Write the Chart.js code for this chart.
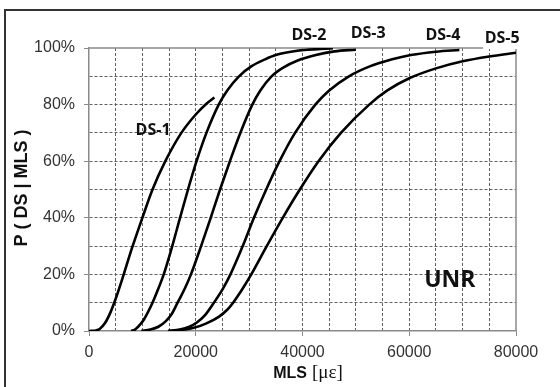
<!doctype html>
<html>
<head>
    <title>P ( DS | MLS ) - UNR</title>
    <script src="https://cdn.jsdelivr.net/npm/chart.js@4.4.0/dist/chart.umd.min.js"></script>
    <style>
        body { margin: 0; background: #fff; }
    </style>
</head>
<body>
<canvas id="myChart" width="560" height="387"></canvas>
<script>
// fragility curves: strain in microstrain, probability in %
var ds1Strain = [0, 1300, 2000, 3000, 4000, 5000, 6000, 7000, 8000, 10000, 11900, 14300, 17300, 20000, 22000, 23500];
var ds1Prob   = [0, 0.2, 0.7, 2.8, 6.5, 11.4, 17, 23, 29, 40, 50, 60, 70, 76.5, 80.3, 82.5];

var ds2Strain = [7900, 8600, 9200, 10100, 11000, 11900, 13000, 14000, 15600, 17050, 18550, 20150, 22000, 24300, 25900, 28100, 30400, 33000, 35000, 39000, 45700];
var ds2Prob   = [0, 0.5, 1.5, 3.5, 6.5, 10, 15, 20, 30, 40, 50, 60, 70, 80, 85, 90, 93.5, 96, 97.5, 99, 99.9];

var ds3Strain = [9800, 11500, 13000, 14400, 15500, 16600, 17950, 19100, 21000, 22800, 24550, 26400, 28350, 30600, 32100, 34200, 36300, 39000, 42500, 46000, 50000];
var ds3Prob   = [0, 0.5, 1.5, 3.5, 6, 10, 15, 20, 30, 40, 50, 60, 70, 80, 85, 90, 93, 95.5, 97.5, 98.8, 99.4];

var ds4Strain = [14800, 17000, 18800, 20200, 21700, 23400, 25100, 26500, 28800, 30900, 33200, 35700, 38600, 42400, 45000, 48700, 52600, 56800, 60300, 65000, 69400];
var ds4Prob   = [0, 0.5, 1.5, 3, 5.5, 10, 15, 20, 30, 40, 50, 60, 70, 80, 85, 90, 93.5, 96, 97.5, 98.7, 99.3];

var ds5Strain = [14800, 17500, 19800, 22000, 24300, 25900, 27000, 28800, 30400, 33300, 36300, 39500, 43000, 47200, 52500, 55900, 60000, 65000, 70000, 75000, 80000];
var ds5Prob   = [0, 0.4, 1.2, 2.7, 5, 7.5, 10, 15, 20, 30, 40, 50, 60, 70, 80, 85, 89.3, 92.8, 95.3, 97, 98.3];

// curve labels, placed in data units
var labelText   = ['DS-1', 'DS-2', 'DS-3', 'DS-4', 'DS-5'];
var labelStrain = [12000, 41200, 52300, 66300, 77400];
var labelProb   = [70.7, 104.4, 105.3, 104.4, 103.5];

function toPoints(xs, ys) {
    return xs.map(function(x, i) { return {x: x, y: ys[i]}; });
}
function curve(name, xs, ys) {
    return {
        label: name,
        data: toPoints(xs, ys),
        showLine: true,
        borderColor: '#000',
        borderWidth: 2.6,
        pointRadius: 0,
        fill: false,
        cubicInterpolationMode: 'monotone'
    };
}

var tickFont = { family: '"Liberation Sans", Arial, sans-serif', size: 16 };

var decor = {
    id: 'decor',
    beforeDraw: function(chart) {
        var c = chart.ctx;
        c.save();
        c.fillStyle = '#fff';
        c.fillRect(0, 0, chart.width, chart.height);
        c.restore();
    },
    beforeDatasetsDraw: function(chart) {
        var c = chart.ctx, a = chart.chartArea;
        c.save();
        c.strokeStyle = '#8a8a8a';
        c.lineWidth = 1.5;
        c.beginPath();
        c.moveTo(a.left, a.top);
        c.lineTo(a.right, a.top);
        c.lineTo(a.right, a.bottom);
        c.stroke();
        c.restore();
    },
    afterDraw: function(chart) {
        var c = chart.ctx, xs = chart.scales.x, ys = chart.scales.y;
        c.save();
        // curve labels
        c.font = 'bold 16px "Open Sans", sans-serif';
        c.textAlign = 'center';
        c.textBaseline = 'middle';
        labelText.forEach(function(t, i) {
            var px = xs.getPixelForValue(labelStrain[i]);
            var py = ys.getPixelForValue(labelProb[i]);
            if (t === 'DS-5') {
                c.fillStyle = '#fff';
                c.fillRect(px - 19, py - 9, 38, 20);
            }
            c.fillStyle = '#111';
            c.fillText(t, px, py);
        });
        // site name
        c.font = 'bold 23px "Open Sans", sans-serif';
        c.fillText('UNR', xs.getPixelForValue(67600), ys.getPixelForValue(18));

        // y axis title
        c.save();
        c.translate(22, 188);
        c.rotate(-Math.PI / 2);
        c.font = 'bold 18px "Liberation Sans", Arial, sans-serif';
        c.fillStyle = '#111';
        c.fillText('P ( DS | MLS )', 0, 0);
        c.restore();

        // x axis title: bold MLS + serif unit
        var f1 = 'bold 16px "Liberation Sans", Arial, sans-serif';
        var f2 = '19px "Liberation Serif", "Times New Roman", serif';
        c.font = f1;
        var w1 = c.measureText('MLS').width;
        c.font = f2;
        var w2 = c.measureText('[\u03bc\u03b5]').width;
        var gap = 5;
        var x0 = 308 - (w1 + gap + w2) / 2;
        c.textAlign = 'left';
        c.textBaseline = 'alphabetic';
        c.fillStyle = '#111';
        c.font = f1;
        c.fillText('MLS', x0, 378);
        c.font = f2;
        c.fillText('[\u03bc\u03b5]', x0 + w1 + gap, 378);

        // outer picture frame (left and top edges)
        c.strokeStyle = '#333';
        c.lineWidth = 2;
        c.beginPath();
        c.moveTo(5, chart.height);
        c.lineTo(5, 10);
        c.lineTo(chart.width, 10);
        c.stroke();
        c.restore();
    }
};

new Chart(document.getElementById('myChart').getContext('2d'), {
    type: 'scatter',
    data: {
        datasets: [
            curve('DS-1', ds1Strain, ds1Prob),
            curve('DS-2', ds2Strain, ds2Prob),
            curve('DS-3', ds3Strain, ds3Prob),
            curve('DS-4', ds4Strain, ds4Prob),
            curve('DS-5', ds5Strain, ds5Prob)
        ]
    },
    options: {
        responsive: false,
        devicePixelRatio: 1,
        animation: false,
        layout: { padding: { left: 0, top: 48, right: 44, bottom: 0 } },
        plugins: { legend: { display: false }, tooltip: { enabled: false } },
        scales: {
            x: {
                type: 'linear',
                min: 0,
                max: 80000,
                afterFit: function(s) { s.height = 56; },
                ticks: {
                    stepSize: 5000,
                    autoSkip: false,
                    maxRotation: 0,
                    padding: 7,
                    color: '#333',
                    font: tickFont,
                    callback: function(v) { return v % 20000 === 0 ? String(v) : ''; }
                },
                grid: {
                    color: function(ctx) {
                        var v = ctx.tick ? ctx.tick.value : 0;
                        return (v === 0 || v === 80000) ? 'rgba(0,0,0,0)' : '#606060';
                    },
                    tickColor: function(ctx) {
                        var v = ctx.tick ? ctx.tick.value : 0;
                        return v % 20000 === 0 ? '#8a8a8a' : 'rgba(0,0,0,0)';
                    },
                    tickLength: 5,
                    lineWidth: 1
                },
                border: { display: true, color: '#8a8a8a', width: 1.5, dash: [3, 2] }
            },
            y: {
                min: 0,
                max: 100,
                afterFit: function(s) { s.width = 89; },
                ticks: {
                    stepSize: 10,
                    autoSkip: false,
                    padding: 9,
                    color: '#333',
                    font: tickFont,
                    callback: function(v) { return v % 20 === 0 ? v + '%' : ''; }
                },
                grid: {
                    color: function(ctx) {
                        var v = ctx.tick ? ctx.tick.value : 0;
                        return (v === 0 || v === 100) ? 'rgba(0,0,0,0)' : '#606060';
                    },
                    tickColor: function(ctx) {
                        var v = ctx.tick ? ctx.tick.value : 0;
                        return v % 20 === 0 ? '#8a8a8a' : 'rgba(0,0,0,0)';
                    },
                    tickLength: 5,
                    lineWidth: 1
                },
                border: { display: true, color: '#8a8a8a', width: 1.5, dash: [3, 2] }
            }
        }
    },
    plugins: [decor]
});
</script>
</body>
</html>
